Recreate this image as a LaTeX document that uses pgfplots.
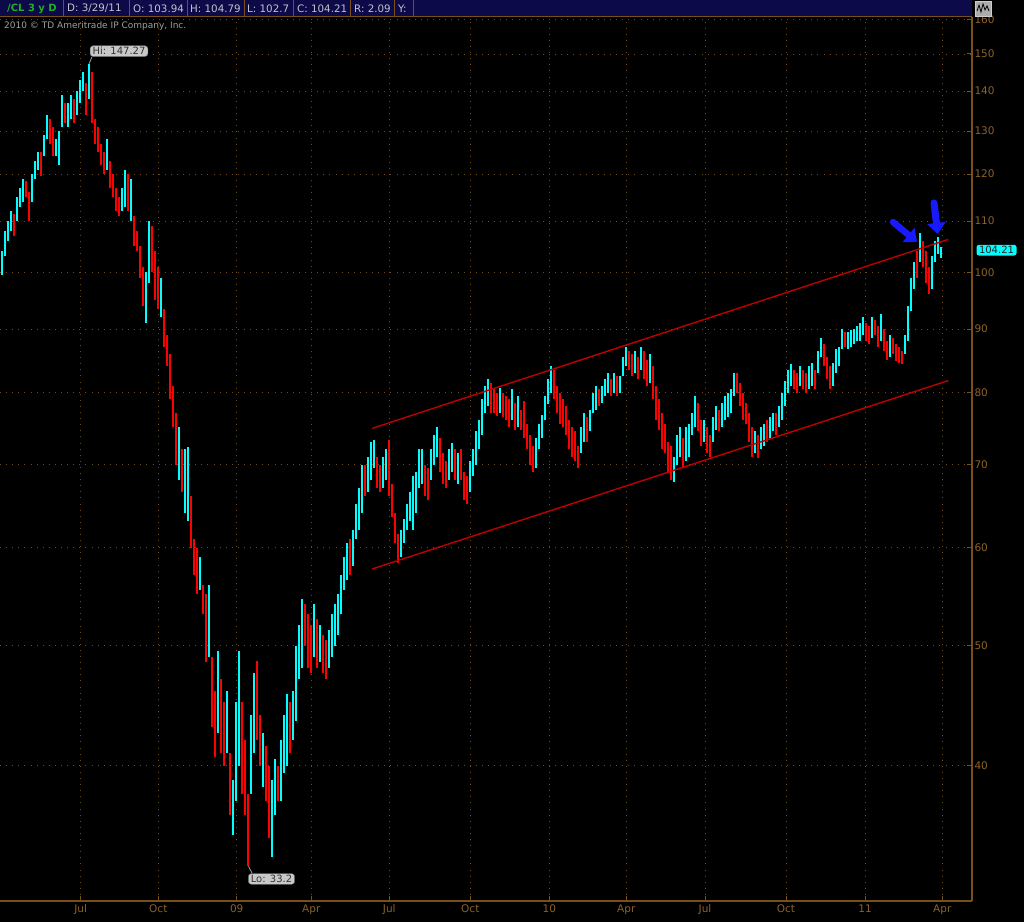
\documentclass[border=0pt]{standalone}
\usepackage{pgfplots}
\pgfplotsset{compat=1.18}
\usepackage{fontspec}
\setmainfont{DejaVu Sans}
\usetikzlibrary{arrows.meta}
\definecolor{upc}{RGB}{0,255,255}
\definecolor{dnc}{RGB}{255,0,0}
\definecolor{axbrown}{RGB}{120,80,28}
\definecolor{gridbrown}{RGB}{110,76,26}
\definecolor{lblbrown}{RGB}{140,98,42}
\definecolor{chan}{RGB}{190,0,0}
\definecolor{hdrbg}{RGB}{12,10,72}
\definecolor{hdrtxt}{RGB}{195,195,200}
\definecolor{hdrgreen}{RGB}{30,175,40}
\definecolor{arrowblue}{RGB}{25,25,255}
\definecolor{lblgray}{RGB}{200,200,200}
\begin{document}
\begin{tikzpicture}[x=1pt,y=1pt]
\fill[black] (0,-21) rectangle (1024,901);
\useasboundingbox (0,-21) rectangle (1024,901);
\begin{axis}[at={(0pt,0pt)}, anchor=south west, scale only axis,
  width=972pt, height=884pt, xmin=0, xmax=972,
  ymode=log, ymin=31.13, ymax=160.67, clip=false,
  axis x line*=bottom, axis y line*=right,
  axis line style={axbrown, line width=1.1pt},
  tick align=inside, major tick length=5pt,
  tick style={axbrown, line width=1pt},
  xtick={80.7,158.3,236.7,311.3,389.3,470.3,549.3,626.3,705,786,865,942.3},
  xticklabels={Jul,Oct,09,Apr,Jul,Oct,10,Apr,Jul,Oct,11,Apr},
  ytick={40,50,60,70,80,90,100,110,120,130,140,150,160},
  yticklabels={40,50,60,70,80,90,100,110,120,130,140,150,160},
  grid=major,
  major grid style={draw=gridbrown, line width=0.9pt, dash pattern=on 0.9pt off 5.2pt},
  ticklabel style={font=\fontsize{10.5}{12}\selectfont, text=lblbrown},
  yticklabel style={xshift=-1pt},
  unbounded coords=jump]
% up bars (cyan): (x,low)(x,high)(x,nan)
\addplot[upc, line width=2.5pt] coordinates {
(2,99.5)(2,104)(2,nan) (5,103)(5,108)(5,nan) (8,106)(8,110)(8,nan) (11,108)(11,112)(11,nan)
(17,110)(17,115)(17,nan) (20,113)(20,117)(20,nan) (23,114)(23,119)(23,nan) (32,114)(32,120)(32,nan)
(35,119)(35,123)(35,nan) (38,121)(38,125)(38,nan) (44,124)(44,129)(44,nan) (47,128)(47,134)(47,nan)
(56,124)(56,128)(56,nan) (59,122)(59,130)(59,nan) (62,131)(62,139)(62,nan) (68,131)(68,137)(68,nan)
(71,133)(71,139)(71,nan) (77,134)(77,140)(77,nan) (80,137)(80,143)(80,nan) (83,140)(83,145)(83,nan)
(89,138)(89,147.27)(89,nan) (107,121)(107,128)(107,nan) (122,112)(122,117)(122,nan) (125,113)(125,121)(125,nan)
(131,110)(131,119)(131,nan) (146,91)(146,100)(146,nan) (149,98)(149,110)(149,nan) (161,92)(161,99)(161,nan)
(179,68)(179,75)(179,nan) (185,64)(185,72)(185,nan) (188,63)(188,72.3)(188,nan) (200,55.5)(200,59)(200,nan)
(209,49)(209,56)(209,nan) (218,42.5)(218,49.5)(218,nan) (227,41)(227,46)(227,nan) (233,35.2)(233,39)(233,nan)
(236,37.5)(236,45)(236,nan) (239,40)(239,49.5)(239,nan) (251,38)(251,44)(251,nan) (254,41)(254,47.5)(254,nan)
(263,38.5)(263,42.5)(263,nan) (272,33.8)(272,39)(272,nan) (275,36.5)(275,40.5)(275,nan) (281,37.5)(281,42)(281,nan)
(284,39.5)(284,44)(284,nan) (287,40)(287,45.7)(287,nan) (293,42)(293,46)(293,nan) (296,43.5)(296,50)(296,nan)
(299,47)(299,52)(299,nan) (302,48)(302,54.5)(302,nan) (314,49)(314,54)(314,nan) (320,48.5)(320,52)(320,nan)
(329,48)(329,51.5)(329,nan) (332,49)(332,53)(332,nan) (335,50)(335,54)(335,nan) (338,51)(338,55)(338,nan)
(341,53)(341,57)(341,nan) (344,55.5)(344,59)(344,nan) (347,56.5)(347,60.5)(347,nan) (353,58)(353,62)(353,nan)
(356,61)(356,65)(356,nan) (359,62)(359,67)(359,nan) (362,64)(362,70)(362,nan) (368,66.5)(368,71)(368,nan)
(371,68)(371,73)(371,nan) (374,69.5)(374,73.3)(374,nan) (383,67)(383,71)(383,nan) (386,68)(386,72)(386,nan)
(401,59)(401,62)(401,nan) (404,60.5)(404,63.3)(404,nan) (407,62)(407,65)(407,nan) (410,63)(410,66.5)(410,nan)
(413,62)(413,68.5)(413,nan) (416,64)(416,69)(416,nan) (419,67)(419,72)(419,nan) (422,67.5)(422,72)(422,nan)
(431,68)(431,72)(431,nan) (434,70)(434,74)(434,nan) (437,71)(437,75)(437,nan) (449,68)(449,72)(449,nan)
(452,69)(452,72.8)(452,nan) (458,67.5)(458,71.5)(458,nan) (470,66.5)(470,70.5)(470,nan) (473,68.5)(473,72)(473,nan)
(476,70)(476,74.5)(476,nan) (479,72)(479,76)(479,nan) (482,74)(482,79)(482,nan) (485,77)(485,81)(485,nan)
(488,78)(488,82)(488,nan) (500,77)(500,80.7)(500,nan) (512,76)(512,80.5)(512,nan) (518,75)(518,79.5)(518,nan)
(536,69.5)(536,73.5)(536,nan) (539,72)(539,75.5)(539,nan) (542,73.5)(542,76.7)(542,nan) (545,76)(545,79.5)(545,nan)
(548,78.3)(548,82)(548,nan) (551,80)(551,84)(551,nan) (581,71.5)(581,75)(581,nan) (584,73)(584,77)(584,nan)
(590,74.5)(590,77.5)(590,nan) (593,77)(593,80)(593,nan) (596,77.5)(596,81)(596,nan) (602,78.5)(602,81)(602,nan)
(605,79.5)(605,82)(605,nan) (608,80)(608,83)(608,nan) (614,80)(614,83)(614,nan) (620,80)(620,82.5)(620,nan)
(623,82.5)(623,85.5)(623,nan) (626,84)(626,87)(626,nan) (635,83)(635,86.5)(635,nan) (641,83.5)(641,87)(641,nan)
(650,81.5)(650,86)(650,nan) (674,67.8)(674,71)(674,nan) (677,70)(677,74)(677,nan) (680,71)(680,75)(680,nan)
(686,70.5)(686,75)(686,nan) (689,71)(689,75.5)(689,nan) (692,74)(692,77)(692,nan) (695,75)(695,79.5)(695,nan)
(704,73)(704,76)(704,nan) (713,73)(713,76.5)(713,nan) (716,74.6)(716,78)(716,nan) (722,75)(722,78.5)(722,nan)
(725,76)(725,79.5)(725,nan) (728,76.5)(728,80)(728,nan) (731,77)(731,80.5)(731,nan) (734,79.5)(734,83)(734,nan)
(755,71.5)(755,74.5)(755,nan) (761,72)(761,75)(761,nan) (764,72.5)(764,75.5)(764,nan) (770,73.5)(770,76.5)(770,nan)
(773,74.5)(773,77)(773,nan) (779,75)(779,78)(779,nan) (782,76)(782,80)(782,nan) (785,78)(785,81.7)(785,nan)
(788,80)(788,83.5)(788,nan) (791,81)(791,84.3)(791,nan) (800,81)(800,84)(800,nan) (809,80.5)(809,84)(809,nan)
(812,81)(812,84.5)(812,nan) (818,83)(818,86.5)(818,nan) (821,85.5)(821,88.5)(821,nan) (833,81)(833,84.5)(833,nan)
(836,83)(836,86.8)(836,nan) (839,84)(839,87)(839,nan) (842,86.8)(842,90)(842,nan) (848,86.8)(848,89.5)(848,nan)
(851,87)(851,89.8)(851,nan) (854,87.5)(854,90)(854,nan) (857,88)(857,90.5)(857,nan) (860,88)(860,91)(860,nan)
(863,89)(863,92)(863,nan) (872,88.5)(872,92)(872,nan) (881,88)(881,92.5)(881,nan) (890,85.5)(890,89)(890,nan)
(905,86)(905,89)(905,nan) (908,88)(908,94)(908,nan) (911,93)(911,99)(911,nan) (914,97)(914,102)(914,nan)
(920,102)(920,107.5)(920,nan) (932,97)(932,103)(932,nan) (935,102)(935,106)(935,nan) (938,103.5)(938,106.8)(938,nan)
(941,102.7)(941,104.79)(941,nan)
};
% down bars (red)
\addplot[dnc, line width=2.5pt] coordinates {
(14,107)(14,111.5)(14,nan) (26,115)(26,118.5)(26,nan) (29,110)(29,116)(29,nan) (41,119.5)(41,125)(41,nan)
(50,127)(50,133)(50,nan) (53,124)(53,131)(53,nan) (65,132)(65,137)(65,nan) (74,132)(74,138)(74,nan)
(86,134)(86,142)(86,nan) (92,132)(92,145)(92,nan) (95,127)(95,133)(95,nan) (98,125)(98,131)(98,nan)
(101,122)(101,127)(101,nan) (104,120)(104,125)(104,nan) (110,117)(110,123)(110,nan) (113,115)(113,120)(113,nan)
(116,112)(116,117)(116,nan) (119,111)(119,115)(119,nan) (128,112)(128,120)(128,nan) (134,105)(134,111)(134,nan)
(137,104)(137,108)(137,nan) (140,99)(140,105)(140,nan) (143,94)(143,101)(143,nan) (152,100)(152,109)(152,nan)
(155,95)(155,104)(155,nan) (158,93.5)(158,101)(158,nan) (164,87)(164,93.5)(164,nan) (167,84)(167,89)(167,nan)
(170,79)(170,86)(170,nan) (173,75)(173,81)(173,nan) (176,70)(176,77)(176,nan) (182,66.5)(182,72)(182,nan)
(191,60)(191,66)(191,nan) (194,57)(194,61)(194,nan) (197,55)(197,60)(197,nan) (203,53)(203,56)(203,nan)
(206,48.5)(206,55)(206,nan) (212,43)(212,49)(212,nan) (215,40.7)(215,46)(215,nan) (221,41)(221,47)(221,nan)
(224,40)(224,45)(224,nan) (230,36.5)(230,41)(230,nan) (242,38)(242,45)(242,nan) (245,36.5)(245,42)(245,nan)
(248,33.2)(248,38)(248,nan) (257,42)(257,48.6)(257,nan) (260,40)(260,44)(260,nan) (266,37.5)(266,41.5)(266,nan)
(269,35)(269,40)(269,nan) (278,37.5)(278,40)(278,nan) (290,41)(290,45)(290,nan) (305,50)(305,54)(305,nan)
(308,48)(308,53)(308,nan) (311,47.5)(311,52)(311,nan) (317,48)(317,52.5)(317,nan) (323,47.5)(323,51)(323,nan)
(326,47)(326,50.5)(326,nan) (350,57)(350,61)(350,nan) (365,66)(365,70)(365,nan) (377,67)(377,71)(377,nan)
(380,66.5)(380,70)(380,nan) (389,66)(389,73.3)(389,nan) (392,63.5)(392,67.5)(392,nan) (395,60.5)(395,64)(395,nan)
(398,58.3)(398,61.5)(398,nan) (425,66)(425,70)(425,nan) (428,65.5)(428,69.5)(428,nan) (440,69)(440,73.5)(440,nan)
(443,67.5)(443,71.5)(443,nan) (446,67)(446,70.5)(446,nan) (455,68)(455,72)(455,nan) (461,68)(461,72)(461,nan)
(464,65.5)(464,69)(464,nan) (467,65)(467,68.5)(467,nan) (491,77)(491,81.5)(491,nan) (494,77)(494,80.5)(494,nan)
(497,76.6)(497,80)(497,nan) (503,76.5)(503,80)(503,nan) (506,76)(506,79.5)(506,nan) (509,75)(509,79)(509,nan)
(515,74.6)(515,78.5)(515,nan) (521,74.6)(521,77.5)(521,nan) (524,73.5)(524,78.8)(524,nan) (527,72)(527,75.5)(527,nan)
(530,70)(530,74)(530,nan) (533,69)(533,72.5)(533,nan) (554,79)(554,83.5)(554,nan) (557,77)(557,81)(557,nan)
(560,75.5)(560,80)(560,nan) (563,75)(563,79)(563,nan) (566,74)(566,78)(566,nan) (569,72)(569,76)(569,nan)
(572,71)(572,75)(572,nan) (575,70.5)(575,74.5)(575,nan) (578,69.5)(578,72.5)(578,nan) (587,73)(587,76.5)(587,nan)
(599,78)(599,80.5)(599,nan) (611,79.5)(611,82)(611,nan) (617,79.5)(617,82.5)(617,nan) (629,83.5)(629,86.5)(629,nan)
(632,82.5)(632,86)(632,nan) (638,82)(638,85.5)(638,nan) (644,82)(644,86.5)(644,nan) (647,81)(647,85)(647,nan)
(653,79)(653,84)(653,nan) (656,76)(656,81)(656,nan) (659,74.6)(659,79)(659,nan) (662,72)(662,77)(662,nan)
(665,71.5)(665,75.5)(665,nan) (668,69)(668,73)(668,nan) (671,68)(671,72.5)(671,nan) (683,69.7)(683,73.5)(683,nan)
(698,74.5)(698,78.5)(698,nan) (701,72.5)(701,76)(701,nan) (707,71.5)(707,75)(707,nan) (710,71)(710,74)(710,nan)
(719,74.5)(719,77.5)(719,nan) (737,80)(737,83)(737,nan) (740,78)(740,81.5)(740,nan) (743,76)(743,80)(743,nan)
(746,75.5)(746,78.5)(746,nan) (749,73)(749,77)(749,nan) (752,71)(752,75)(752,nan) (758,70.8)(758,74)(758,nan)
(767,73)(767,76)(767,nan) (776,74)(776,77)(776,nan) (794,80.5)(794,83.5)(794,nan) (797,80)(797,83)(797,nan)
(803,80.5)(803,83.5)(803,nan) (806,80)(806,83)(806,nan) (815,80.5)(815,83.5)(815,nan) (824,84)(824,87.5)(824,nan)
(827,82)(827,85.5)(827,nan) (830,80.5)(830,84)(830,nan) (845,87)(845,89.5)(845,nan) (866,88)(866,91)(866,nan)
(869,87.5)(869,90.5)(869,nan) (875,89)(875,91.5)(875,nan) (878,87)(878,90.5)(878,nan) (884,86.5)(884,90)(884,nan)
(887,85)(887,88)(887,nan) (893,86)(893,88.5)(893,nan) (896,84.8)(896,87.5)(896,nan) (899,84.5)(899,87)(899,nan)
(902,84.3)(902,86.5)(902,nan) (917,99)(917,104)(917,nan) (923,101)(923,106)(923,nan) (926,98)(926,104)(926,nan)
(929,96)(929,101)(929,nan)
};
% channel lines
\addplot[chan, line width=1.4pt] coordinates {(372.3,74.87) (948.3,106.3)};
\addplot[chan, line width=1.4pt] coordinates {(372.3,57.66) (948.3,81.8)};
% labels
\draw[gray!75, line width=0.8pt] (axis cs:89,147.27) -- (axis cs:92,149.2);
\node[fill=lblgray, draw=gray!70!black, rounded corners=3pt, inner xsep=2.5pt, inner ysep=1.6pt,
  font=\fontsize{10}{11}\selectfont, text=black!80] at (axis cs:119,150.8) {Hi: 147.27};
\draw[gray!75, line width=0.8pt] (axis cs:248.5,33.2) -- (axis cs:252,32.79);
\node[fill=lblgray, draw=gray!70!black, rounded corners=3pt, inner xsep=2.5pt, inner ysep=1.6pt,
  font=\fontsize{10}{11}\selectfont, text=black!80] at (axis cs:271.5,32.43) {Lo: 33.2};
\node[fill=upc, rounded corners=2.5pt, inner xsep=2.5pt, inner ysep=1.6pt,
  font=\fontsize{10}{11}\selectfont, text=black!85] at (axis cs:996.5,104.21) {104.21};
% arrows
\draw[arrowblue, line width=6.5pt, line cap=round, -{Triangle[width=18pt,length=11pt]}]
  (axis cs:893,109.8) -- (axis cs:917,105.8);
\draw[arrowblue, line width=7pt, line cap=round, -{Triangle[width=18pt,length=11pt]}]
  (axis cs:934,113.76) -- (axis cs:937.7,107.4);
\end{axis}
% header bar
\fill[hdrbg] (0,884) rectangle (972,901);
\draw[axbrown, line width=0.8pt] (0,884.4) -- (972,884.4);
\foreach \sx in {63,129,187,244,293,350,394,413} \draw[axbrown, line width=1pt] (\sx,884) -- (\sx,901);
\node[anchor=west, inner sep=0, text=hdrgreen, font=\bfseries\fontsize{10}{12}\selectfont] at (7,892.5) {/CL 3 y D};
\begin{scope}[every node/.style={anchor=west, inner sep=0, text=hdrtxt, font=\fontsize{10.3}{12}\selectfont}]
\node at (67,892.5) {D: 3/29/11};
\node at (133,892.5) {O: 103.94};
\node at (190,892.5) {H: 104.79};
\node at (247,892.5) {L: 102.7};
\node at (297,892.5) {C: 104.21};
\node at (354,892.5) {R: 2.09};
\node at (398,892.5) {Y:};
\end{scope}
\node[anchor=west, inner sep=0, text=gray!75, font=\fontsize{9}{10}\selectfont] at (4,875) {2010 © TD Ameritrade IP Company, Inc.};
% icon
\draw[fill=gray!65, draw=gray!40] (975,885) rectangle (991,900);
\draw[black, line width=0.8pt] (977,890) -- (979,896) -- (981,889) -- (983,897) -- (985,891) -- (987,895) -- (989,890);
\end{tikzpicture}
\end{document}
